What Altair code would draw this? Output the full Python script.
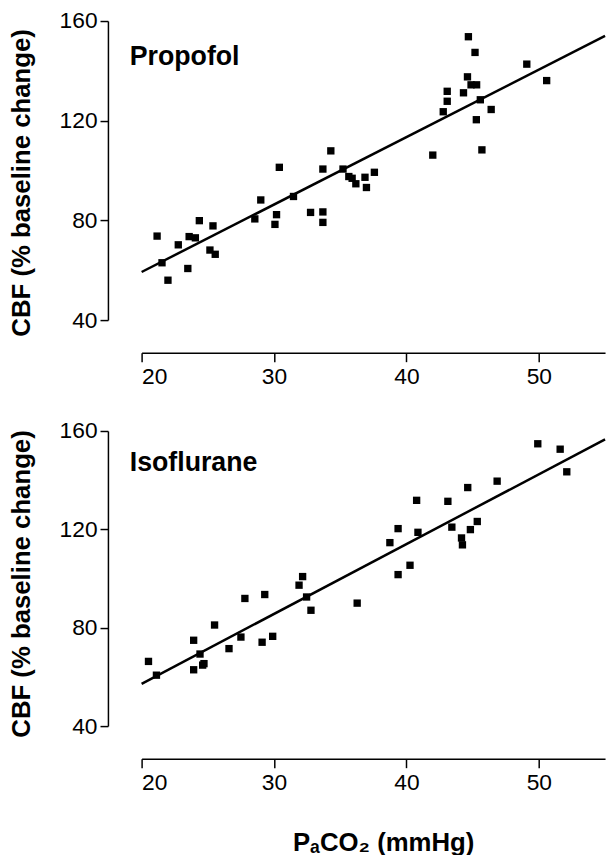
import altair as alt
import pandas as pd

# ---- data ----
prop_x = [21.17, 21.54, 21.99, 22.77, 23.49, 23.59, 24.06, 24.36, 25.16, 25.39, 25.56,
          28.55, 29.0, 30.07, 30.19, 30.40, 31.47, 32.76, 33.69, 33.69, 33.69, 34.29,
          35.21, 35.65, 35.90, 36.18, 36.87, 36.98, 37.58, 41.99, 42.78, 43.08, 43.08,
          44.31, 44.61, 44.68, 44.88, 45.18, 45.28, 45.30, 45.58, 45.70, 46.40, 49.09, 50.59]
prop_y = [73.7, 63.0, 56.0, 70.2, 60.7, 73.5, 73.0, 79.9, 68.1, 77.8, 66.4,
          80.6, 88.2, 78.4, 82.3, 101.3, 89.6, 83.2, 83.4, 79.2, 100.6, 107.9,
          100.6, 97.6, 96.9, 94.7, 97.3, 93.2, 99.3, 106.2, 123.6, 131.8, 127.8,
          131.2, 137.6, 153.7, 134.4, 147.4, 120.4, 134.4, 128.4, 108.3, 124.5, 142.7, 136.1]

iso_x = [20.52, 21.12, 23.93, 23.93, 24.41, 24.61, 24.71, 25.51, 26.60, 27.50, 27.80,
         29.10, 29.30, 29.90, 31.89, 32.16, 32.46, 32.79, 36.28, 38.75, 39.37, 39.37,
         40.27, 40.77, 40.87, 43.13, 43.43, 44.16, 44.23, 44.63, 44.83, 45.35, 46.85,
         49.92, 51.61, 52.11]
iso_y = [66.3, 60.7, 74.9, 62.9, 69.3, 64.8, 65.4, 81.1, 71.5, 76.2, 91.9,
         74.1, 93.5, 76.5, 97.3, 100.8, 92.5, 87.1, 90.0, 114.6, 120.3, 101.6,
         105.4, 131.8, 118.8, 131.4, 120.9, 116.5, 113.7, 137.0, 119.9, 123.2, 139.6,
         154.8, 152.6, 143.4]

fit_x = [20, 55]
fit_prop = [59.3, 154.0]
fit_iso = [57.2, 156.6]

x_ticks = [20, 30, 40, 50]
y_ticks = [40, 80, 120, 160]
y_title = "CBF (% baseline change)"
x_title = "PₐCO₂ (mmHg)"

FONT = "Liberation Sans"


def panel(xs, ys, fit_y, label, h, label_y, show_title, title_y_shift):
    pts = pd.DataFrame({"x": xs, "y": ys})
    fit = pd.DataFrame({"x": fit_x, "y": fit_y})
    lab = pd.DataFrame({"t": [label]})

    xscale = alt.Scale(domain=[20, 55], nice=False, zero=False)
    yscale = alt.Scale(domain=[40, 160], nice=False, zero=False)

    xaxis_kw = dict(values=x_ticks, offset=33, labelPadding=4, grid=False,
                    labelFontSize=23, labelFont=FONT, tickSize=9)
    if show_title:
        xaxis_kw.update(title=x_title, titleFont=FONT, titleFontSize=26,
                        titleFontWeight="bold", titlePadding=36, titleX=244)
    else:
        xaxis_kw.update(title=None)

    yaxis = alt.Axis(values=y_ticks, offset=34, labelPadding=3, grid=False,
                     labelFontSize=23, labelFont=FONT, tickSize=8,
                     title=y_title, titleFont=FONT, titleFontSize=26,
                     titleFontWeight="bold", titlePadding=25,
                     titleY=h / 2 + title_y_shift)

    points = alt.Chart(pts).mark_square(size=55, color="black", opacity=1).encode(
        x=alt.X("x:Q", scale=xscale, axis=alt.Axis(**xaxis_kw)),
        y=alt.Y("y:Q", scale=yscale, axis=yaxis),
    )
    line = alt.Chart(fit).mark_line(color="black", strokeWidth=2.5).encode(
        x=alt.X("x:Q", scale=xscale),
        y=alt.Y("y:Q", scale=yscale),
    )
    text = alt.Chart(lab).mark_text(
        align="left", baseline="alphabetic", font=FONT, fontSize=27,
        fontWeight="bold", color="black"
    ).encode(text="t:N", x=alt.value(-12), y=alt.value(label_y))

    return alt.layer(line, points, text).properties(width=468, height=h)


top = panel(prop_x, prop_y, fit_prop, "Propofol", 302, 44, False, 12)
bottom = panel(iso_x, iso_y, fit_iso, "Isoflurane", 298, 40, True, 5)

chart = alt.vconcat(top, bottom, spacing=32).properties(
    padding={"left": 8, "top": 6, "right": 0, "bottom": 0}
).configure_view(stroke=None).configure_axis(
    domainColor="black", domainWidth=1.5, tickColor="black", tickWidth=1.5,
    labelColor="black", titleColor="black"
)

chart.save("out.html", embed_options={"renderer": "svg", "actions": False})
